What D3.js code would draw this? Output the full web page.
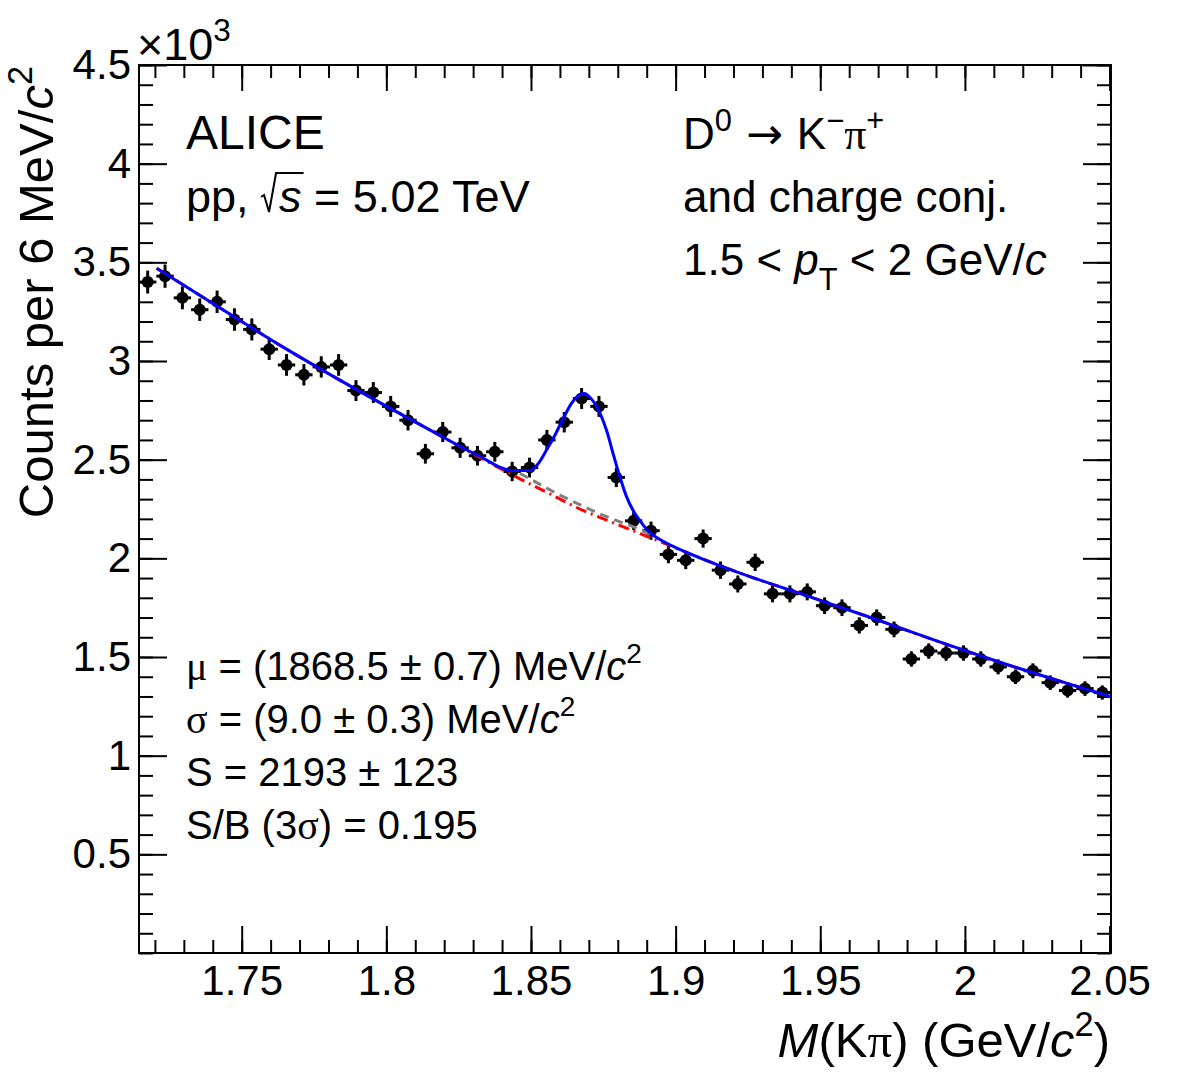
<!DOCTYPE html>
<html>
<head>
<meta charset="utf-8">
<script src="https://cdn.jsdelivr.net/npm/d3@7"></script>
<style>
body{margin:0;background:#fff;}
svg{display:block;font-family:"Liberation Sans",Arial,Helvetica,sans-serif;}
</style>
</head>
<body>
<svg id="chart" width="1182" height="1082"></svg>
<script>
// invariant mass bins (GeV/c^2), bin centres, 6 MeV wide
var massBins=[1.7175,1.7235,1.7295,1.7355,1.7415,1.7475,1.7535,1.7595,1.7655,1.7715,
    1.7775,1.7835,1.7895,1.7955,1.8015,1.8075,1.8135,1.8195,1.8255,1.8315,
    1.8375,1.8435,1.8495,1.8555,1.8615,1.8675,1.8735,1.8795,1.8855,1.8915,
    1.8975,1.9035,1.9095,1.9155,1.9215,1.9275,1.9335,1.9395,1.9455,1.9515,
    1.9575,1.9635,1.9695,1.9755,1.9815,1.9875,1.9935,1.9995,2.0055,2.0115,
    2.0175,2.0235,2.0295,2.0355,2.0415,2.0475];
var binHalf=0.003;
// counts per bin
var counts=[3400,3430,3320,3260,3300,3210,3160,3060,2980,2930,
    2970,2980,2850,2840,2770,2700,2530,2640,2560,2520,
    2540,2440,2460,2600,2690,2810,2770,2410,2190,2140,
    2020,1990,2100,1940,1870,1980,1820,1820,1830,1760,
    1750,1660,1700,1640,1490,1530,1520,1520,1490,1450,
    1400,1430,1370,1330,1340,1320];
// statistical errors
var countErr=[58,59,58,57,57,57,56,55,55,54,
    54,55,53,53,53,52,50,51,51,50,
    50,49,50,51,52,53,53,49,47,46,
    45,45,46,44,43,44,43,43,43,42,
    42,41,41,40,39,39,39,39,39,38,
    37,38,37,36,37,36];

// fit curves: total (blue), background (red), bkg + reflections (grey)
var totalMass=[1.7206,1.7413,1.7655,1.7897,1.8139,1.8312,1.8439,1.8496,1.8525,1.8554,1.8583,1.8612,1.8640,1.8669,1.8685,1.8704,1.8739,1.8762,1.8785,1.8808,1.8831,1.8854,1.8877,1.8911,1.8946,1.9038,1.9223,1.9454,1.9684,1.9915,2.0145,2.0376,2.0503];
var totalFit=[3470,3280,3060,2855,2660,2525,2445,2445,2480,2550,2625,2710,2785,2830,2835,2815,2735,2645,2525,2410,2310,2240,2190,2130,2095,2030,1925,1810,1695,1575,1462,1356,1300];
var bkgMass=[1.7206,1.7413,1.7655,1.7897,1.8139,1.8312,1.8439,1.8554,1.8669,1.8785,1.8877,1.8946,1.9038,1.9223,1.9454,1.9684,1.9915,2.0145,2.0376,2.0503];
var bkgFit=[3470,3280,3060,2855,2660,2520,2420,2335,2250,2180,2125,2085,2030,1925,1810,1695,1575,1462,1356,1300];
var reflMass=[1.8462,1.8531,1.8600,1.8669,1.8738,1.8808,1.8877,1.8920];
var reflFit=[2430,2375,2320,2272,2225,2185,2145,2115];

var xMajor=[1.75,1.8,1.85,1.9,1.95,2,2.05];
var yMajor=[500,1000,1500,2000,2500,3000,3500,4000,4500];

var W=1182,H=1082;
var margin={left:139,right:71,top:65,bottom:129};
var svg=d3.select("#chart");

var x=d3.scaleLinear().domain([1.7145,2.0505]).range([margin.left,W-margin.right]);
var y=d3.scaleLinear().domain([0,4500]).range([H-margin.bottom,margin.top]);
var x0=margin.left,x1=W-margin.right,y0=H-margin.bottom,y1=margin.top;

var serif="'Liberation Serif','DejaVu Serif',serif";

//坐标轴
function styleAxis(g){
    g.select(".domain").remove();
    g.selectAll(".tick line").attr("stroke","#000").attr("stroke-width",2);
    g.selectAll("text").attr("fill","#000").attr("font-family","'Liberation Sans',Arial,sans-serif");
}
var xMinor=x.ticks(34);
var yMinor=y.ticks(45);

svg.append("g").attr("transform","translate(0,"+y0+")")
    .call(d3.axisBottom(x).tickValues(xMinor).tickSize(-13).tickFormat(""))
    .call(styleAxis);
svg.append("g").attr("transform","translate(0,"+y0+")")
    .call(d3.axisBottom(x).tickValues(xMajor).tickSize(-27).tickPadding(12).tickFormat(function(d){return d3.format("")(d);}))
    .call(styleAxis)
    .selectAll("text").attr("font-size",42);
svg.append("g").attr("transform","translate(0,"+y1+")")
    .call(d3.axisTop(x).tickValues(xMinor).tickSize(-13).tickFormat(""))
    .call(styleAxis);
svg.append("g").attr("transform","translate(0,"+y1+")")
    .call(d3.axisTop(x).tickValues(xMajor).tickSize(-26).tickFormat(""))
    .call(styleAxis);

svg.append("g").attr("transform","translate("+x0+",0)")
    .call(d3.axisLeft(y).tickValues(yMinor).tickSize(-14).tickFormat(""))
    .call(styleAxis);
svg.append("g").attr("transform","translate("+x0+",0)")
    .call(d3.axisLeft(y).tickValues(yMajor).tickSize(-28).tickPadding(8).tickFormat(function(d){return d/1000;}))
    .call(styleAxis)
    .selectAll("text").attr("font-size",42);
svg.append("g").attr("transform","translate("+x1+",0)")
    .call(d3.axisRight(y).tickValues(yMinor).tickSize(-14).tickFormat(""))
    .call(styleAxis);
svg.append("g").attr("transform","translate("+x1+",0)")
    .call(d3.axisRight(y).tickValues(yMajor).tickSize(-28).tickFormat(""))
    .call(styleAxis);

svg.append("rect")
    .attr("x",x0).attr("y",y1)
    .attr("width",x1-x0).attr("height",y0-y1)
    .attr("fill","none").attr("stroke","#000").attr("stroke-width",2);

//数据点
var pts=svg.append("g").selectAll("g.pt")
    .data(counts)
    .enter().append("g").attr("class","pt");
pts.append("line")
    .attr("x1",function(d,i){return x(massBins[i]-binHalf);})
    .attr("x2",function(d,i){return x(massBins[i]+binHalf);})
    .attr("y1",function(d){return y(d);})
    .attr("y2",function(d){return y(d);})
    .attr("stroke","#000").attr("stroke-width",3);
pts.append("line")
    .attr("x1",function(d,i){return x(massBins[i]);})
    .attr("x2",function(d,i){return x(massBins[i]);})
    .attr("y1",function(d,i){return y(d-countErr[i]);})
    .attr("y2",function(d,i){return y(d+countErr[i]);})
    .attr("stroke","#000").attr("stroke-width",3);
pts.append("circle")
    .attr("cx",function(d,i){return x(massBins[i]);})
    .attr("cy",function(d){return y(d);})
    .attr("r",6)
    .attr("fill","#000");

//拟合曲线
function fitLine(xs,ys){
    return d3.line()
        .x(function(d,i){return x(xs[i]);})
        .y(function(d){return y(d);})
        .curve(d3.curveMonotoneX)(ys);
}
svg.append("path").attr("d",fitLine(bkgMass,bkgFit))
    .attr("fill","none").attr("stroke","#ff0000").attr("stroke-width",3)
    .attr("stroke-dasharray","11,5,2,5");
svg.append("path").attr("d",fitLine(reflMass,reflFit))
    .attr("fill","none").attr("stroke","#808080").attr("stroke-width",3)
    .attr("stroke-dasharray","9,6");
svg.append("path").attr("d",fitLine(totalMass,totalFit))
    .attr("fill","none").attr("stroke","#0000ff").attr("stroke-width",3);

//文字
function richText(parent,px,py,size,parts,anchor){
    var t=parent.append("text")
        .attr("x",px).attr("y",py)
        .attr("font-size",size)
        .attr("text-anchor",anchor||"start")
        .attr("fill","#000");
    var shift=0;
    parts.forEach(function(p){
        if(typeof p==="string") p={t:p};
        var s=t.append("tspan").text(p.t);
        var target=p.sup?-0.42*size:(p.sub?0.33*size:0);
        if(target!==shift){s.attr("dy",target-shift);shift=target;}
        if(p.sup||p.sub) s.attr("font-size",size*0.7);
        if(p.it) s.attr("font-style","italic");
        if(p.serif) s.attr("font-family",serif);
        if(p.font) s.attr("font-family",p.font);
        if(p.dx) s.attr("dx",p.dx);
    });
    return t;
}

// ×10^3
richText(svg,137,60,45,["×10",{t:"3",sup:true}]);

richText(svg,186,149,48,["ALICE"]);
var ppText=richText(svg,186,212,45,["pp, ",{t:"s",it:true,dx:18}," = 5.02 TeV"]);
var sBox=ppText.node().getExtentOfChar(4);
var sx=sBox.x,sw=sBox.width,by=212;
svg.append("path")
    .attr("d","M"+(sx-18)+","+(by-15)+"L"+(sx-15)+","+(by-17)+"L"+(sx-10)+","+(by)+
        "L"+(sx-3)+","+(by-39)+"L"+(sx+sw+2)+","+(by-39))
    .attr("fill","none").attr("stroke","#000").attr("stroke-width",2);

richText(svg,683,149,44,["D",{t:"0",sup:true},{t:" → ",font:"'DejaVu Sans',sans-serif"},"K",{t:"−",sup:true},{t:"π",serif:true},{t:"+",sup:true}]);
richText(svg,683,212,44,["and charge conj."]);
richText(svg,683,275,44,["1.5 < ",{t:"p",it:true},{t:"T",sub:true}," < 2 GeV/",{t:"c",it:true}]);

richText(svg,186,680,40,[{t:"μ",serif:true}," = (1868.5 ± 0.7) MeV/",{t:"c",it:true},{t:"2",sup:true}]);
richText(svg,186,733,40,[{t:"σ",serif:true}," = (9.0 ± 0.3) MeV/",{t:"c",it:true},{t:"2",sup:true}]);
richText(svg,186,786,40,["S = 2193 ± 123"]);
richText(svg,186,839,40,["S/B (3",{t:"σ",serif:true},") = 0.195"]);

// axis titles
richText(svg,1110,1057,49,[{t:"M",it:true},"(K",{t:"π",serif:true},") (GeV/",{t:"c",it:true},{t:"2",sup:true},")"],"end");
var yTitle=svg.append("g").attr("transform","rotate(-90)");
richText(yTitle,-66,53,49,["Counts per 6 MeV/",{t:"c",it:true},{t:"2",sup:true}],"end");
</script>
</body>
</html>
